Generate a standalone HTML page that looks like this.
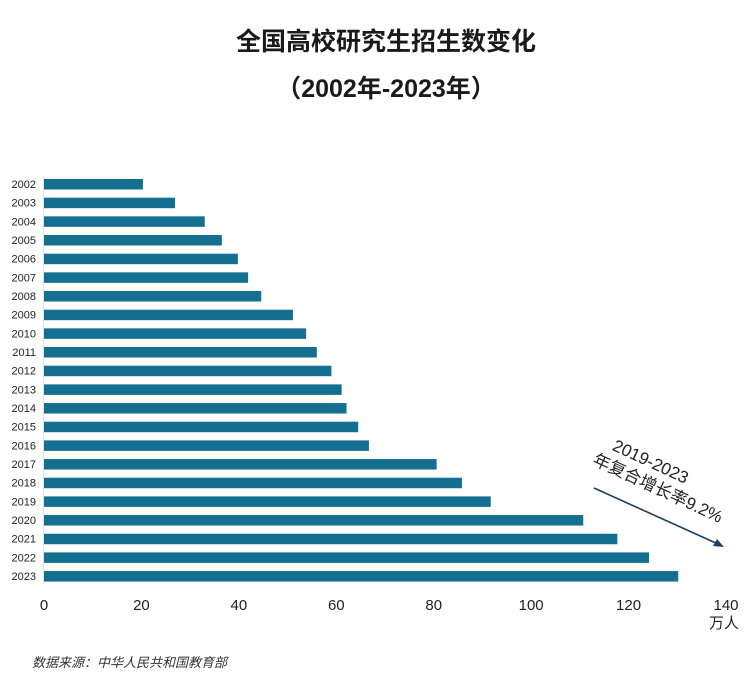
<!DOCTYPE html>
<html><head><meta charset="utf-8"><style>
body{margin:0;background:#fff;}
svg{display:block;font-family:"Liberation Sans","Noto Sans CJK SC",sans-serif;}
</style></head><body>
<svg id="chart" width="744" height="682" viewBox="0 0 744 682">
<text x="386" y="50" text-anchor="middle" font-size="25" font-weight="bold" fill="#1a1a1a">全国高校研究生招生数变化</text>
<text x="386" y="97" text-anchor="middle" font-size="25" font-weight="bold" fill="#1a1a1a">（2002年-2023年）</text>
<line x1="43.5" y1="176" x2="43.5" y2="584" stroke="#e0e0e0"/>
<g id="bars"></g>
<g id="xticks"></g>
<text x="724" y="628" text-anchor="middle" font-size="15" fill="#222">万人</text>
<g transform="translate(598,450) rotate(25)">
<text x="12" y="-6" font-size="17" fill="#222">2019-2023</text>
<text x="0" y="15" font-size="17" fill="#222">年复合增长率9.2%</text>
</g>
<line x1="594" y1="488" x2="718" y2="544" stroke="#1d3f5e" stroke-width="1.6"/>
<polygon points="724,547 713,546 717,539" fill="#1d3f5e"/>
<text x="32" y="667" font-size="13" font-style="italic" fill="#333">数据来源：中华人民共和国教育部</text>
</svg>
<script>
const years=["2002","2003","2004","2005","2006","2007","2008","2009","2010","2011","2012","2013","2014","2015","2016","2017","2018","2019","2020","2021","2022","2023"];
const values=[20.3,26.9,33.0,36.5,39.8,41.9,44.6,51.1,53.8,56.0,59.0,61.1,62.1,64.5,66.7,80.6,85.8,91.7,110.7,117.7,124.2,130.2];
const tickValues=[0,20,40,60,80,100,120,140];
const NS="http://www.w3.org/2000/svg";
const x0=44,pxPer=(726-44)/140;
function xs(v){return x0+v*pxPer;}
function ys(i){return 184+i*18.67;}
const bars=document.getElementById('bars');
years.forEach((y,i)=>{
 const r=document.createElementNS(NS,'rect');
 r.setAttribute('x',x0);r.setAttribute('y',ys(i)-5);
 r.setAttribute('width',xs(values[i])-x0);r.setAttribute('height',10.5);
 r.setAttribute('fill','#146f90');
 
 
 bars.appendChild(r);
 const t=document.createElementNS(NS,'text');
 t.setAttribute('x',36);t.setAttribute('y',ys(i)+4);
 t.setAttribute('text-anchor','end');t.setAttribute('font-size','11');t.setAttribute('fill','#222');
 t.textContent=y;
 
 
 bars.appendChild(t);
});
const xt=document.getElementById('xticks');
tickValues.forEach(v=>{
 const t=document.createElementNS(NS,'text');
 t.setAttribute('x',xs(v));t.setAttribute('y',610);
 t.setAttribute('text-anchor','middle');t.setAttribute('font-size','15');t.setAttribute('fill','#222');
 t.textContent=v;
 
 
 xt.appendChild(t);
});
</script>
</body></html>
